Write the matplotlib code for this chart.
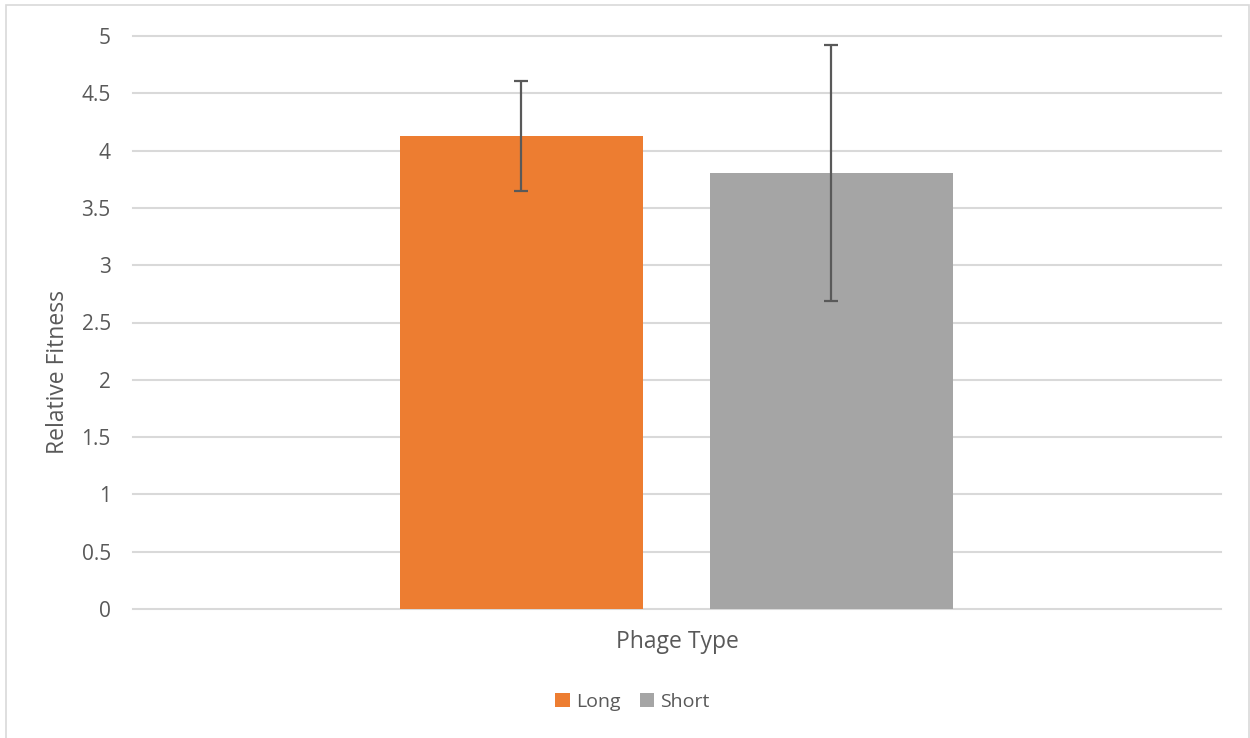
import matplotlib
matplotlib.use("Agg")
import matplotlib.pyplot as plt
from matplotlib.patches import Patch, Rectangle

# data
series = ["Long", "Short"]
values = [4.127, 3.804]
errors = [0.48, 1.12]
colors = ["#ED7D31", "#A5A5A5"]
y_ticks = [0, 0.5, 1, 1.5, 2, 2.5, 3, 3.5, 4, 4.5, 5]
y_tick_labels = ["0", "0.5", "1", "1.5", "2", "2.5", "3", "3.5", "4", "4.5", "5"]

plt.rcParams['font.family'] = ['Open Sans', 'DejaVu Sans']
text_color = "#595959"
grid_color = "#D9D9D9"

W, H = 1250, 738
fig = plt.figure(figsize=(W / 100, H / 100), dpi=100)

# outer chart border
fig.patches.append(Rectangle((6 / W, -0.01), (1249 - 6) / W, 1 - 5 / H + 0.01,
                             transform=fig.transFigure, fill=False,
                             edgecolor=grid_color, linewidth=1.2))

ax = fig.add_axes([133 / W, 1 - 609 / H, (1221 - 133) / W, (609 - 36) / H])

# bar positions within the single category
offsets = [-0.143, 0.142]
bar_w = 0.2233
for off, v, e, c in zip(offsets, values, errors, colors):
    ax.bar(off, v, width=bar_w, color=c, zorder=2)
    ax.errorbar(off, v, yerr=e, fmt='none', ecolor="#595959",
                elinewidth=1.6, capsize=5, capthick=1.6, zorder=3)

ax.set_xlim(-0.5, 0.5)
ax.set_ylim(0, 5)
ax.set_yticks(y_ticks)
ax.set_yticklabels(y_tick_labels)
ax.set_xticks([])
ax.yaxis.grid(True, color=grid_color, linewidth=1.5)
for gl in ax.yaxis.get_gridlines():
    gl.set_clip_on(False)
ax.set_axisbelow(True)
for s in ax.spines.values():
    s.set_visible(False)
ax.tick_params(axis='y', length=0, pad=16, labelsize=15, labelcolor=text_color)

ax.set_ylabel("Relative Fitness", fontsize=16.5, color=text_color)
ax.yaxis.set_label_coords(-63 / 1088, 1 - (372 - 36) / 573)
ax.set_xlabel("Phage Type", fontsize=16.5, color=text_color, labelpad=15)

handles = [Patch(facecolor=c, edgecolor='none') for c in colors]
fig.legend(handles, series, loc='center', bbox_to_anchor=(0.506, 1 - 702 / H),
           ncol=2, frameon=False, fontsize=14, labelcolor=text_color,
           handlelength=0.75, handleheight=0.75, handletextpad=0.3, columnspacing=1.0)

fig.savefig("out.png", dpi=100)
